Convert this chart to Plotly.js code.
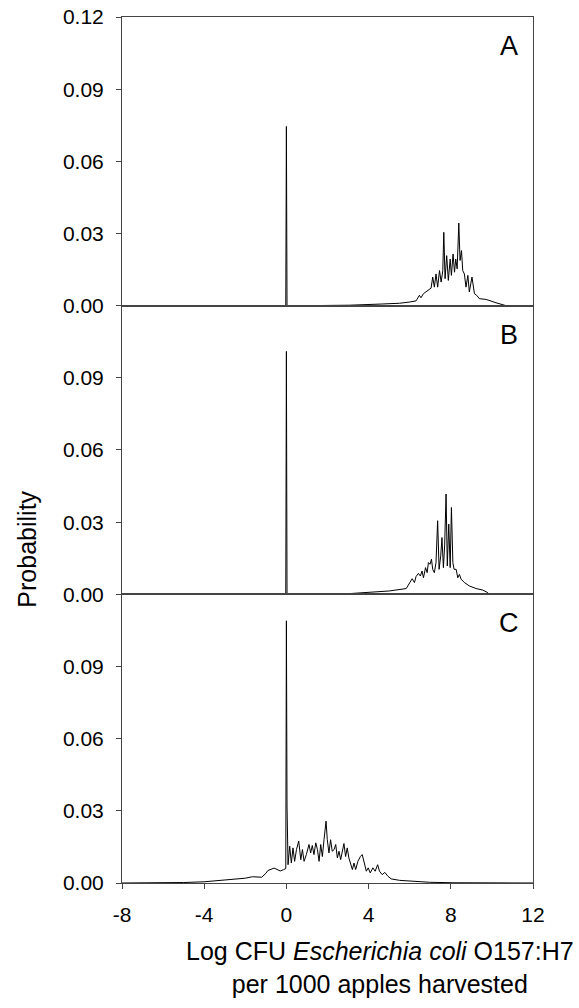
<!DOCTYPE html>
<html>
<head>
<meta charset="utf-8">
<script src="https://cdn.plot.ly/plotly-3.0.1.min.js"></script>
<style>html,body{margin:0;padding:0;background:#fff;}#chart{width:579px;height:1008px;}</style>
</head>
<body>
<div id="chart"></div>
<script>
// Panel A
var xA = [-8, -1, -0.03, 0, 0.03, 1, 3.07, 4.69, 5.50, 5.99, 6.31, 6.47, 6.55, 6.67, 6.88, 7.04, 7.12, 7.20, 7.28, 7.36, 7.45, 7.53, 7.61, 7.66, 7.72, 7.80, 7.88, 7.97, 8.03, 8.11, 8.18, 8.24, 8.31, 8.39, 8.45, 8.52, 8.58, 8.66, 8.74, 8.83, 8.90, 9.03, 9.15, 9.26, 9.39, 9.72, 10.20, 10.69, 12];
var yA = [0, 0, 0, 0.0745, 0, 0, 0.0002, 0.0007, 0.001, 0.0015, 0.002, 0.0043, 0.0033, 0.005, 0.0063, 0.0073, 0.0119, 0.0077, 0.0132, 0.0077, 0.0146, 0.0098, 0.0146, 0.0305, 0.0112, 0.0208, 0.0105, 0.0194, 0.0126, 0.0215, 0.0139, 0.0194, 0.0153, 0.0343, 0.0188, 0.0229, 0.0146, 0.0132, 0.0077, 0.0126, 0.0057, 0.0119, 0.005, 0.0043, 0.0029, 0.0026, 0.0012, 0, 0];
// Panel B
var xB = [-8, -0.03, 0, 0.03, 3.07, 5.01, 5.83, 5.99, 6.12, 6.23, 6.31, 6.42, 6.52, 6.60, 6.67, 6.77, 6.85, 6.91, 6.99, 7.06, 7.12, 7.20, 7.28, 7.36, 7.43, 7.51, 7.57, 7.64, 7.70, 7.77, 7.83, 7.90, 7.97, 8.03, 8.10, 8.16, 8.26, 8.34, 8.42, 8.50, 8.66, 8.90, 9.23, 9.55, 9.80, 9.88, 12];
var yB = [0, 0, 0.101, 0, 0.0003, 0.0014, 0.0024, 0.0049, 0.0065, 0.0049, 0.0074, 0.0087, 0.0076, 0.0097, 0.0069, 0.0111, 0.009, 0.0132, 0.0125, 0.0146, 0.0104, 0.009, 0.0132, 0.0306, 0.0104, 0.016, 0.0236, 0.0111, 0.0201, 0.0417, 0.0118, 0.0292, 0.0111, 0.0361, 0.0132, 0.0104, 0.0104, 0.0069, 0.0083, 0.0063, 0.0049, 0.0035, 0.0024, 0.0018, 0.0007, 0, 0];
// Panel C
var xC = [-8, -7, -6, -5, -4, -3, -2, -1.65, -1.2, -1.0, -0.9, -0.6, -0.3, -0.15, -0.03, 0, 0.03, 0.08, 0.16, 0.24, 0.32, 0.40, 0.49, 0.60, 0.70, 0.78, 0.86, 0.97, 1.10, 1.18, 1.26, 1.34, 1.43, 1.51, 1.59, 1.67, 1.75, 1.83, 1.93, 1.99, 2.07, 2.15, 2.23, 2.32, 2.40, 2.48, 2.56, 2.64, 2.72, 2.80, 2.88, 2.96, 3.04, 3.13, 3.21, 3.29, 3.37, 3.48, 3.60, 3.69, 3.81, 3.89, 3.98, 4.08, 4.21, 4.32, 4.44, 4.53, 4.66, 4.79, 4.94, 5.10, 5.51, 6.15, 6.96, 8.10, 9.72, 12];
var yC = [0, 0, 0.0001, 0.0002, 0.0005, 0.0012, 0.002, 0.0026, 0.0024, 0.004, 0.0052, 0.0062, 0.005, 0.0055, 0.006, 0.109, 0.032, 0.0076, 0.0153, 0.0083, 0.0146, 0.009, 0.0139, 0.0174, 0.0097, 0.0139, 0.009, 0.0118, 0.016, 0.0125, 0.0156, 0.0118, 0.0167, 0.0139, 0.009, 0.016, 0.011, 0.018, 0.0257, 0.018, 0.0125, 0.018, 0.0132, 0.0139, 0.016, 0.0104, 0.0132, 0.0097, 0.0125, 0.0164, 0.011, 0.0146, 0.0104, 0.0076, 0.0056, 0.0083, 0.0056, 0.009, 0.011, 0.0118, 0.0076, 0.0049, 0.0063, 0.0042, 0.0063, 0.0049, 0.0076, 0.0049, 0.0035, 0.0044, 0.0028, 0.0017, 0.0011, 0.0007, 0.0003, 0.0001, 0, 0];

var panelLabels = ["A", "B", "C"];
var xTickVals = [-8, -4, 0, 4, 8, 12];
var xTickText = ["-8", "-4", "0", "4", "8", "12"];
var yTickValsTop = [0, 0.03, 0.06, 0.09, 0.12];
var yTickTextTop = ["0.00", "0.03", "0.06", "0.09", "0.12"];
var yTickVals = [0, 0.03, 0.06, 0.09];
var yTickText = ["0.00", "0.03", "0.06", "0.09"];
var xTitle = "Log CFU <i>Escherichia coli</i> O157:H7<br>per 1000 apples harvested";
var yTitle = "Probability";

var FONT = "Liberation Sans, Arial, sans-serif";
var AX = "#444";
var lineStyle = {color: "#000", width: 1};

var traces = [
  {x: xA, y: yA, xaxis: "x", yaxis: "y", type: "scatter", mode: "lines", line: lineStyle, hoverinfo: "skip"},
  {x: xB, y: yB, xaxis: "x2", yaxis: "y2", type: "scatter", mode: "lines", line: lineStyle, hoverinfo: "skip"},
  {x: xC, y: yC, xaxis: "x3", yaxis: "y3", type: "scatter", mode: "lines", line: lineStyle, hoverinfo: "skip"}
];

function xa(anchor, showLabels) {
  return {
    anchor: anchor, range: [-8, 12], showgrid: false, zeroline: false,
    showline: true, linecolor: AX, linewidth: 1, mirror: true,
    ticks: showLabels ? "outside" : "", ticklen: 5, tickcolor: AX,
    tickvals: xTickVals, ticktext: xTickText, showticklabels: showLabels,
    ticklabelstandoff: 8,
    tickfont: {family: FONT, size: 21, color: "#000"}
  };
}
function ya(anchor, domain, tv, tt) {
  return {
    anchor: anchor, domain: domain, range: [0, 0.12], showgrid: false, zeroline: false,
    showline: true, linecolor: AX, linewidth: 1, mirror: true,
    ticks: "outside", ticklen: 5, tickcolor: AX,
    tickvals: tv, ticktext: tt, ticklabelstandoff: 8,
    tickfont: {family: FONT, size: 21, color: "#000"}
  };
}

var h = 1 / 3;
var layout = {
  width: 579, height: 1008,
  margin: {l: 122, r: 46, t: 17, b: 125},
  paper_bgcolor: "#fff", plot_bgcolor: "#fff",
  showlegend: false,
  font: {family: FONT, color: "#000"},
  xaxis: xa("y", false),
  xaxis2: xa("y2", false),
  xaxis3: xa("y3", true),
  yaxis: ya("x", [2 * h, 1], yTickValsTop, yTickTextTop),
  yaxis2: ya("x2", [h, 2 * h], yTickVals, yTickText),
  yaxis3: ya("x3", [0, h], yTickVals, yTickText),
  annotations: [
    {xref: "x", yref: "y", x: 10.85, y: 0.108, text: panelLabels[0], showarrow: false, font: {family: FONT, size: 27, color: "#000"}, xanchor: "center", yanchor: "middle"},
    {xref: "x2", yref: "y2", x: 10.85, y: 0.108, text: panelLabels[1], showarrow: false, font: {family: FONT, size: 27, color: "#000"}, xanchor: "center", yanchor: "middle"},
    {xref: "x3", yref: "y3", x: 10.85, y: 0.108, text: panelLabels[2], showarrow: false, font: {family: FONT, size: 27, color: "#000"}, xanchor: "center", yanchor: "middle"},
    {xref: "paper", yref: "paper", x: 0.628, y: -0.098, text: xTitle, showarrow: false, font: {family: FONT, size: 25, color: "#000"}, xanchor: "center", yanchor: "middle", align: "center"},
    {xref: "paper", yref: "paper", x: -0.231, y: 0.385, text: yTitle, showarrow: false, textangle: -90, font: {family: FONT, size: 25, color: "#000"}, xanchor: "center", yanchor: "middle"}
  ]
};

Plotly.newPlot("chart", traces, layout, {displayModeBar: false, staticPlot: true});
</script>
</body>
</html>
